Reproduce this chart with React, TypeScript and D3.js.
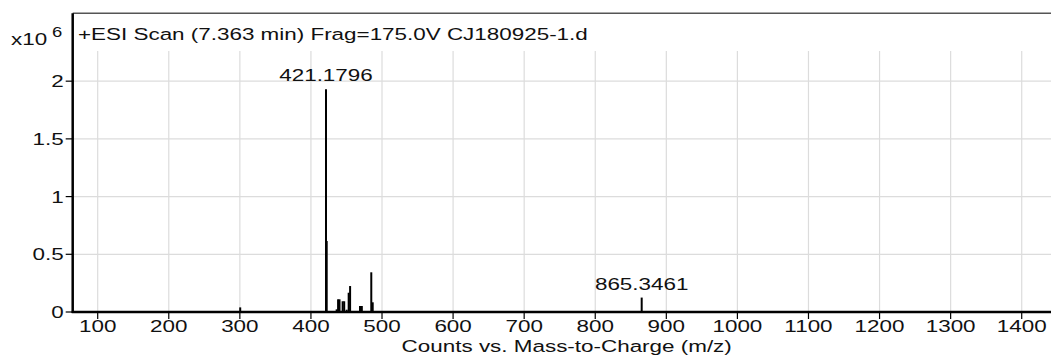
import React from 'react';
import * as d3 from 'd3';

// Mass spectrum: +ESI scan, intensities in units of 10^6 counts
const xTicks = [100, 200, 300, 400, 500, 600, 700, 800, 900, 1000, 1100, 1200, 1300, 1400];
const yTicks = [0, 0.5, 1, 1.5, 2];
const yTickLabels = ['0', '0.5', '1', '1.5', '2'];

const peakMz = [300.5, 421.1796, 422.18, 436.2, 438.2, 440.2, 444.6, 446.8, 450.3, 453.1, 455.1, 469.0, 471.6, 484.9, 486.9, 865.3461];
const peakIntensity = [0.04, 1.93, 0.615, 0.023, 0.11, 0.11, 0.093, 0.093, 0.02, 0.167, 0.225, 0.052, 0.052, 0.344, 0.084, 0.125];

const labeledMz = [421.1796, 865.3461];
const labelText = ['421.1796', '865.3461'];

const title = '+ESI Scan (7.363 min) Frag=175.0V CJ180925-1.d';
const xAxisTitle = 'Counts vs. Mass-to-Charge (m/z)';

const W = 1051;
const H = 363;
const left = 72.7;
const right = 1051;
const top = 13.3;
const bottom = 312;
const FONT = 'Liberation Sans, Arial, sans-serif';
const FS = 17;
const SX = 1.32;

function T({ x, y, anchor = 'start', size = FS, children }: { x: number; y: number; anchor?: string; size?: number; children: React.ReactNode }) {
  return (
    <text
      transform={`translate(${x},${y}) scale(${SX},1)`}
      textAnchor={anchor as any}
      fontFamily={FONT}
      fontSize={size}
      fill="#111"
    >
      {children}
    </text>
  );
}

export default function App() {
  const x = d3.scaleLinear().domain([64.83, 1441.2]).range([left, right]);
  const y = d3.scaleLinear().domain([0, 2.588]).range([bottom, top]);

  return (
    <svg width={W} height={H} style={{ position: 'absolute', left: 0, top: 0, background: '#fff' }}>
      <rect x={0} y={0} width={W} height={H} fill="#fff" />
      {/* grid */}
      {xTicks.map((t) => (
        <line key={'gx' + t} x1={x(t)} x2={x(t)} y1={51} y2={bottom} stroke="#dcdcdc" strokeWidth={1.2} />
      ))}
      {yTicks.slice(1).map((t) => (
        <line key={'gy' + t} x1={left} x2={right} y1={y(t)} y2={y(t)} stroke="#dcdcdc" strokeWidth={1.2} />
      ))}
      {/* top frame */}
      <line x1={left} x2={right} y1={top} y2={top} stroke="#555" strokeWidth={1.6} />
      {/* spectrum sticks */}
      {peakMz.map((m, i) => (
        <line key={'p' + i} x1={x(m)} x2={x(m)} y1={y(0)} y2={y(peakIntensity[i])} stroke="#000" strokeWidth={2} />
      ))}
      {/* peak labels */}
      {labeledMz.map((m, i) => {
        const idx = peakMz.indexOf(m);
        return (
          <T key={'l' + i} x={x(m)} y={y(peakIntensity[idx]) - 8} anchor="middle">
            {labelText[i]}
          </T>
        );
      })}
      {/* axes */}
      <line x1={left} x2={left} y1={top} y2={bottom + 1} stroke="#000" strokeWidth={2.5} />
      <line x1={left - 1} x2={right} y1={bottom} y2={bottom} stroke="#000" strokeWidth={2.5} />
      {yTicks.map((t, i) => (
        <g key={'yt' + t}>
          <line x1={left - 7} x2={left} y1={y(t)} y2={y(t)} stroke="#000" strokeWidth={1.2} />
          <T x={left - 9} y={y(t) + 6} anchor="end">
            {yTickLabels[i]}
          </T>
        </g>
      ))}
      {xTicks.map((t) => (
        <g key={'xt' + t}>
          <line x1={x(t)} x2={x(t)} y1={bottom} y2={bottom + 7} stroke="#000" strokeWidth={1.2} />
          <T x={x(t)} y={bottom + 20} anchor="middle">
            {String(t)}
          </T>
        </g>
      ))}
      <T x={(x(100) + x(1400)) / 2 + 7} y={H - 11} anchor="middle">
        {xAxisTitle}
      </T>
      <T x={78} y={40}>{title}</T>
      <T x={11} y={45}>x10</T>
      <T x={52} y={37} size={14}>6</T>
    </svg>
  );
}
